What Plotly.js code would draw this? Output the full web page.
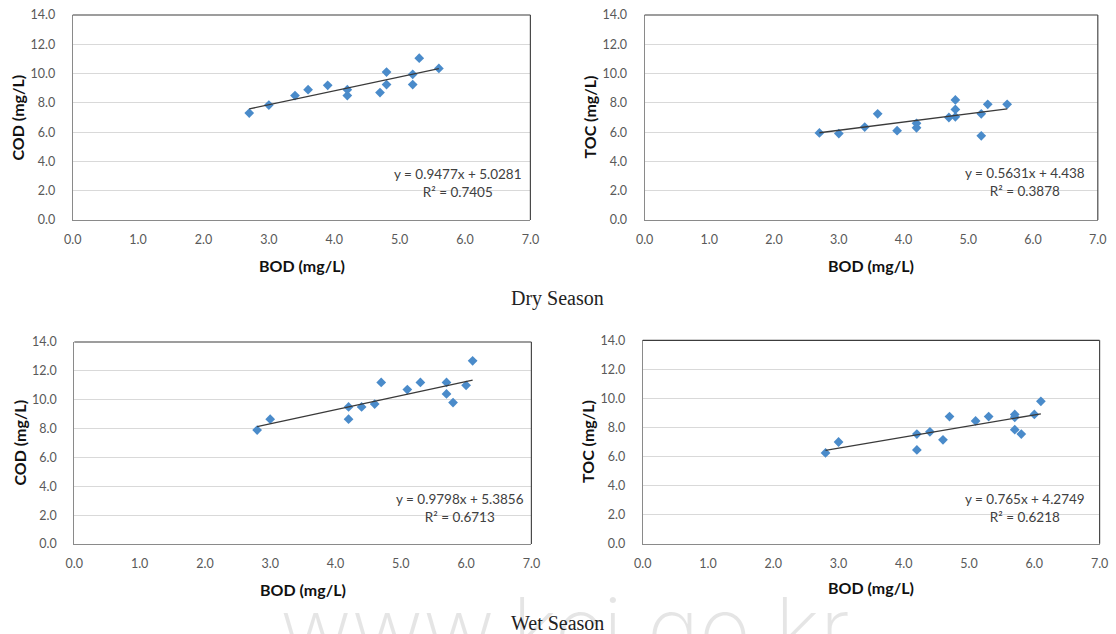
<!DOCTYPE html>
<html>
<head>
<meta charset="utf-8">
<script src="https://cdn.plot.ly/plotly-3.0.1.min.js"></script>
<style>
  html, body { margin: 0; padding: 0; background: #ffffff; }
  #chart { width: 1116px; height: 634px; }
</style>
</head>
<body>
<div id="chart"></div>
<script>
// BOD against COD / TOC, dry and wet season samples (mg/L)
const dryBodCod = [2.7, 3.0, 3.4, 3.6, 3.9, 4.2, 4.2, 4.7, 4.8, 4.8, 5.2, 5.2, 5.3, 5.6];
const dryCod    = [7.3, 7.85, 8.5, 8.9, 9.2, 8.9, 8.5, 8.7, 10.1, 9.25, 9.95, 9.25, 11.05, 10.35];

const dryBodToc = [2.7, 3.0, 3.4, 3.6, 3.9, 4.2, 4.2, 4.7, 4.8, 4.8, 4.8, 5.2, 5.2, 5.3, 5.6];
const dryToc    = [5.95, 5.9, 6.35, 7.25, 6.1, 6.6, 6.3, 7.0, 8.2, 7.55, 7.05, 7.25, 5.75, 7.9, 7.9];

const wetBodCod = [2.8, 3.0, 4.2, 4.2, 4.4, 4.6, 4.7, 5.1, 5.3, 5.7, 5.7, 5.8, 6.0, 6.1];
const wetCod    = [7.9, 8.65, 9.5, 8.65, 9.5, 9.7, 11.2, 10.7, 11.2, 11.2, 10.4, 9.8, 11.0, 12.7];

const wetBodToc = [2.8, 3.0, 4.2, 4.2, 4.4, 4.6, 4.7, 5.1, 5.3, 5.7, 5.7, 5.7, 5.8, 6.0, 6.1];
const wetToc    = [6.25, 7.0, 7.55, 6.45, 7.7, 7.15, 8.75, 8.45, 8.75, 8.9, 8.7, 7.85, 7.55, 8.9, 9.8];

// linear fits (slope, intercept, R²) in panel order: dry COD, dry TOC, wet COD, wet TOC
const fitSlope     = [0.9477, 0.5631, 0.9798, 0.765];
const fitIntercept = [5.0281, 4.438, 5.3856, 4.2749];
const fitR2        = ['0.7405', '0.3878', '0.6713', '0.6218'];

const yTitles      = ['COD (mg/L)', 'TOC (mg/L)', 'COD (mg/L)', 'TOC (mg/L)'];
const xTitle       = 'BOD (mg/L)';
const seasonLabels = ['Dry Season', 'Wet Season'];

const W = 1116, H = 634;
const px = v => v / W;
const py = v => 1 - v / H;

// plot-area boxes in pixels: [left, right, top, bottom]
const boxes = [
  [72.7, 530.4, 15, 220],
  [644.6, 1097.8, 15, 220],
  [74.3, 531.4, 342, 544],
  [642.8, 1099.6, 340.3, 543.7]
];
// axis-title and equation anchor points in pixels
const xTitleY  = [265, 265, 589.3, 587.7];
const yTitleX  = [17, 589, 18.6, 587];
const eqCenter = [[458, 183], [1025, 182], [460, 507.7], [1025, 508]];

const seriesX = [dryBodCod, dryBodToc, wetBodCod, wetBodToc];
const seriesY = [dryCod, dryToc, wetCod, wetToc];

const markerColor = '#4a8bca';
const tickFont  = { family: 'Lato, "Open Sans", sans-serif', size: 12.5, color: '#595959' };
const titleFont = { family: 'Lato, "Open Sans", sans-serif', size: 16, color: '#111111', weight: 'bold' };

const traces = [];
const layout = {
  width: W, height: H,
  margin: { l: 0, r: 0, t: 0, b: 0 },
  paper_bgcolor: '#ffffff',
  plot_bgcolor: '#ffffff',
  showlegend: false,
  annotations: [],
  shapes: []
};

// faint site watermark along the bottom edge
layout.annotations.push({
  xref: 'paper', yref: 'paper', x: px(565), y: py(574),
  xanchor: 'center', yanchor: 'top', showarrow: false,
  text: 'www.kci.go.kr',
  font: { family: 'Inter, "Open Sans", sans-serif', size: 88, color: 'rgba(0,0,0,0.1)', weight: 200 }
});

for (let i = 0; i < 4; i++) {
  const n = i + 1;
  const xa = n === 1 ? 'x' : 'x' + n;
  const ya = n === 1 ? 'y' : 'y' + n;
  const [l, r, t, b] = boxes[i];

  traces.push({
    type: 'scatter', mode: 'markers',
    x: seriesX[i], y: seriesY[i],
    xaxis: xa, yaxis: ya,
    marker: { symbol: 'diamond', size: 7.5, color: markerColor },
    hoverinfo: 'x+y'
  });

  const xMin = Math.min(...seriesX[i]);
  const xMax = Math.max(...seriesX[i]);
  traces.push({
    type: 'scatter', mode: 'lines',
    x: [xMin, xMax],
    y: [fitSlope[i] * xMin + fitIntercept[i], fitSlope[i] * xMax + fitIntercept[i]],
    xaxis: xa, yaxis: ya,
    line: { color: '#3a3a3a', width: 1.3 },
    hoverinfo: 'skip'
  });

  const axKey = n === 1 ? '' : String(n);
  layout['xaxis' + axKey] = {
    domain: [px(l), px(r)],
    anchor: ya,
    range: [0, 7], dtick: 1, tick0: 0, tickformat: '.1f',
    showgrid: false, zeroline: false,
    showline: true, linecolor: '#8a8a8a', linewidth: 1,
    ticks: '', ticklabelstandoff: 8,
    tickfont: tickFont,
    fixedrange: true
  };
  layout['yaxis' + axKey] = {
    domain: [py(b), py(t)],
    anchor: xa,
    range: [0, 14], dtick: 2, tick0: 0, tickformat: '.1f',
    showgrid: true, gridcolor: '#d9d9d9', gridwidth: 1,
    zeroline: false,
    showline: true, linecolor: '#8a8a8a', linewidth: 1,
    ticks: '', ticklabelstandoff: 14,
    tickfont: tickFont,
    fixedrange: true
  };

  // darker top and right edges of the plot frame
  layout.shapes.push(
    { type: 'line', xref: 'paper', yref: 'paper', x0: px(l), x1: px(r), y0: py(t), y1: py(t),
      line: { color: '#3c3c3c', width: 1.2 } },
    { type: 'line', xref: 'paper', yref: 'paper', x0: px(r), x1: px(r), y0: py(t), y1: py(b),
      line: { color: '#4a4a4a', width: 1.2 } }
  );

  // axis titles
  layout.annotations.push({
    xref: 'paper', yref: 'paper', x: px((l + r) / 2), y: py(xTitleY[i]),
    xanchor: 'center', yanchor: 'middle', showarrow: false,
    text: xTitle, font: titleFont
  });
  layout.annotations.push({
    xref: 'paper', yref: 'paper', x: px(yTitleX[i]), y: py((t + b) / 2),
    xanchor: 'center', yanchor: 'middle', showarrow: false, textangle: -90,
    text: yTitles[i], font: titleFont
  });

  // regression equation and R²
  layout.annotations.push({
    xref: 'paper', yref: 'paper', x: px(eqCenter[i][0]), y: py(eqCenter[i][1]),
    xanchor: 'center', yanchor: 'middle', align: 'center', showarrow: false,
    text: 'y = ' + fitSlope[i] + 'x + ' + fitIntercept[i] + '<br>R² = ' + fitR2[i],
    font: { family: 'Lato, "Open Sans", sans-serif', size: 13.5, color: '#404040' }
  });
}

// season captions
layout.annotations.push(
  { xref: 'paper', yref: 'paper', x: px(557), y: py(298), xanchor: 'center', yanchor: 'middle',
    showarrow: false, text: seasonLabels[0],
    font: { family: '"Liberation Serif", "DejaVu Serif", serif', size: 20, color: '#222222' } },
  { xref: 'paper', yref: 'paper', x: px(557), y: py(623), xanchor: 'center', yanchor: 'middle',
    showarrow: false, text: seasonLabels[1],
    font: { family: '"Liberation Serif", "DejaVu Serif", serif', size: 20, color: '#222222' } }
);

Plotly.newPlot('chart', traces, layout, { displayModeBar: false, staticPlot: true });
</script>
</body>
</html>
